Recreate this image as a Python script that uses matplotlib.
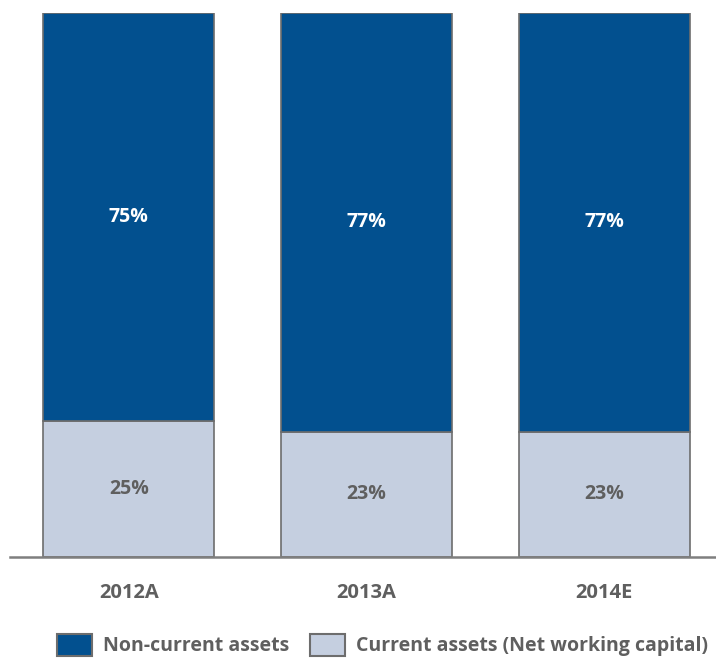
import matplotlib.pyplot as plt
import numpy as np
from matplotlib.patches import Patch

plt.rcParams['font.family'] = ['Open Sans', 'DejaVu Sans']

### Data
years = ['2012A', '2013A', '2014E']
non_current = [75, 77, 77]
current = [25, 23, 23]

dark_blue = '#02508F'
light_blue = '#C5CFE0'
edge = '#6D6D6D'
grey_text = '#5F5F5F'

fig = plt.figure(figsize=(7.16, 6.59), dpi=100)
ax = fig.add_axes([10 / 716, 1 - 557 / 659, 706 / 716, (557 - 13) / 659])

x = np.arange(len(years))
width = 0.72
cur = np.array(current) / 100
nonc = np.array(non_current) / 100

ax.bar(x, cur, width, color=light_blue, edgecolor=edge, linewidth=1.2, zorder=2)
ax.bar(x, nonc, width, bottom=cur, color=dark_blue, edgecolor=edge, linewidth=1.2, zorder=2)

# Segment labels
for i in range(len(years)):
    ax.text(x[i], cur[i] / 2, f'{current[i]}%', ha='center', va='center',
            fontsize=14, fontweight='bold', color=grey_text)
    ax.text(x[i], cur[i] + nonc[i] / 2, f'{non_current[i]}%', ha='center', va='center',
            fontsize=14, fontweight='bold', color='white')

ax.set_xlim(-0.5, 2.47)
ax.set_ylim(0, 1)
ax.set_xticks(x)
ax.set_xticklabels(years, fontsize=14.5, fontweight='bold', color=grey_text)
ax.tick_params(axis='x', length=0, pad=19)
ax.set_yticks([])
for s in ['top', 'right', 'left']:
    ax.spines[s].set_visible(False)
ax.spines['bottom'].set_color('#7F7F7F')
ax.spines['bottom'].set_linewidth(1.8)

handles = [Patch(facecolor=dark_blue, edgecolor=edge, linewidth=1.5, label='Non-current assets'),
           Patch(facecolor=light_blue, edgecolor=edge, linewidth=1.5, label='Current assets (Net working capital)')]
leg = fig.legend(handles=handles, loc='center', bbox_to_anchor=(0.534, 1 - 645 / 659), ncol=2,
                 frameon=False, handlelength=1.8, handleheight=1.34, columnspacing=1.08,
                 handletextpad=0.57, borderaxespad=0, borderpad=0,
                 prop={'size': 14, 'weight': 'bold'})
for t in leg.get_texts():
    t.set_color(grey_text)

fig.savefig('out.png', dpi=100)
